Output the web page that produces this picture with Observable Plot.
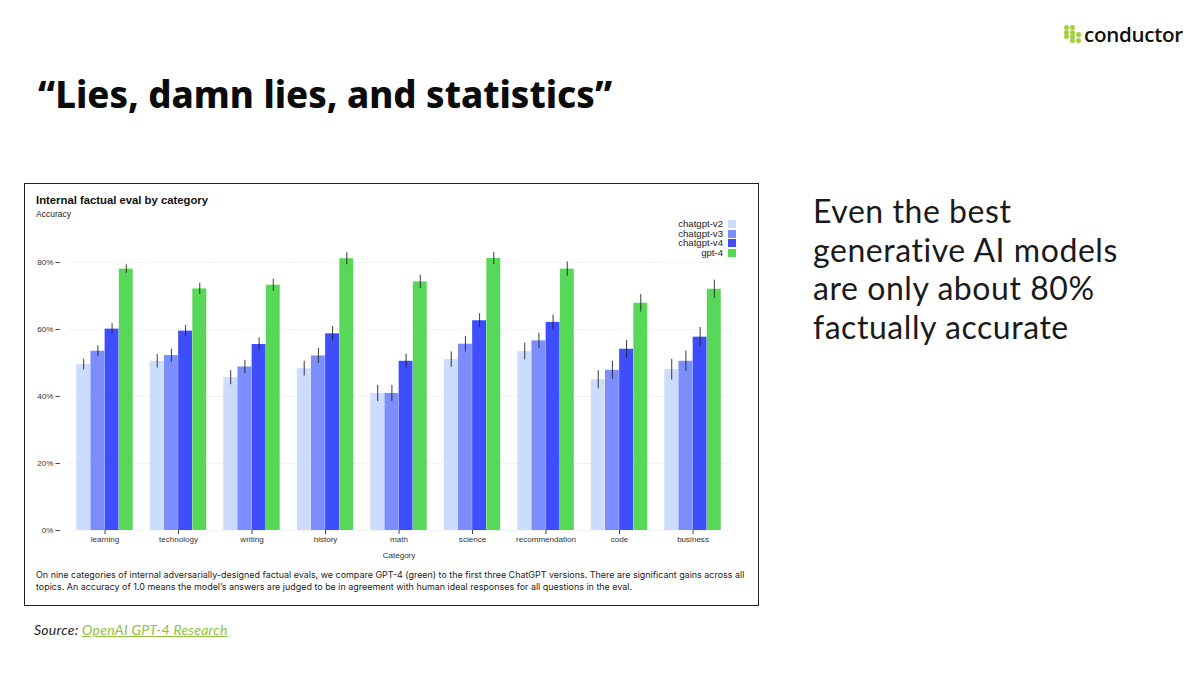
<!DOCTYPE html>
<html><head><meta charset="utf-8">
<script src="https://cdn.jsdelivr.net/npm/d3@7"></script>
<script src="https://cdn.jsdelivr.net/npm/@observablehq/plot@0.6"></script>
<style>
html,body{margin:0;padding:0;background:#fff;width:1196px;height:677px;overflow:hidden}
.a{position:absolute;white-space:nowrap;font-variant-ligatures:none}
#title{left:38px;top:69px;font:800 36.5px/50px "Noto Sans",sans-serif;color:#0b0b0b}
#box{left:24px;top:183px;width:733px;height:421px;border:1px solid #222}
#ct{left:36px;top:193px;font:bold 11.3px/14px "Liberation Sans",sans-serif;color:#111}
#yl{left:36px;top:209px;font:8.5px/11px "Liberation Sans",sans-serif;color:#222}
#chart{left:26px;top:190px}
#legend{left:640px;top:219px;width:96px;font:9.6px/9.7px "Liberation Sans",sans-serif;color:#222}
#legend div{display:flex;justify-content:flex-end;align-items:center;height:9.7px}
#legend i{display:block;width:8px;height:8px;margin-left:5px}
#cap{left:36px;top:569px;font:8.95px/12.4px Inter,sans-serif;color:#222}
#src{left:34px;top:621px;font:italic 14px/18px Lato,sans-serif;color:#222;letter-spacing:.25px}
#src a{color:#8fc13e;text-decoration:underline}
#side{left:813px;top:192px;font:32px/38.7px Lato,sans-serif;color:#1a1a1a;letter-spacing:.55px}
#logo{left:1084px;top:18px;font:600 20.6px/32px "Open Sans",sans-serif;color:#111;letter-spacing:-.3px}
.d{position:absolute;width:5px;height:5px;border-radius:50%;background:#a3cf3c}
</style></head><body>
<div class="a" id="title"></div>
<div class="a" id="box"></div>
<div class="a" id="ct"></div>
<div class="a" id="yl"></div>
<div class="a" id="chart"></div>
<div class="a" id="legend"></div>
<div class="a" id="cap"></div>
<div class="a" id="src"></div>
<div class="a" id="side"></div>
<div class="a" id="logo">conductor</div>
<script>
const categories=["learning","technology","writing","history","math","science","recommendation","code","business"];
const models=["chatgpt-v2","chatgpt-v3","chatgpt-v4","gpt-4"];
const colors=["#ccdcfc","#7b8efc","#3f4efc","#58d858"];
const v2=[49.5,50.5,45.6,48.3,40.9,51,53.4,45,48];
const v3=[53.5,52.2,48.8,52.1,40.9,55.6,56.6,47.8,50.5];
const v4=[60.1,59.5,55.5,58.7,50.5,62.6,62.1,54.1,57.7];
const g4=[78,72.1,73.2,81.1,74.2,81.2,78,67.8,72];
const e2=[1.6,2,2.1,2.2,2.4,2.3,2.5,2.7,3.1];
const e3=[1.6,1.9,2,2.2,2.4,2.3,2.3,2.7,3.1];
const e4=[1.6,1.7,2,2.2,2.1,2.1,2.2,2.6,2.9];
const eg=[1.3,1.7,1.8,1.8,2,1.8,2.1,2.6,2.7];
const yTicks=[0,20,40,60,80];
const titleText="“Lies, damn lies, and statistics”";
const chartTitle="Internal factual eval by category";
const yLabel="Accuracy";
const xLabel="Category";
const captionLines=["On nine categories of internal adversarially-designed factual evals, we compare GPT-4 (green) to the first three ChatGPT versions. There are significant gains across all","topics. An accuracy of 1.0 means the model’s answers are judged to be in agreement with human ideal responses for all questions in the eval."];
const sideLines=["Even the best","generative AI models","are only about 80%","factually accurate"];

const vals=[v2,v3,v4,g4], errs=[e2,e3,e4,eg];
const rows=models.flatMap((m,j)=>categories.map((c,i)=>({c,m,v:vals[j][i],e:errs[j][i]})));

const plot=Plot.plot({
  width:730,height:375,marginLeft:33.5,marginRight:18.5,marginTop:20,marginBottom:35,
  style:{background:"transparent",fontFamily:"Liberation Sans",fontSize:"8.05px",color:"#333"},
  fx:{domain:categories,paddingInner:0.224,paddingOuter:0.224,round:false,label:null,axis:null},
  x:{domain:models,padding:0.02,round:false,axis:null},
  y:{domain:[0,95.5],label:null},
  color:{domain:models,range:colors},
  marks:[
    Plot.ruleY(yTicks,{insetLeft:-8.3,insetRight:-8.3,stroke:"#f3f3f3",strokeWidth:1}),
    Plot.barY(rows,{fx:"c",x:"m",y:"v",fill:"m"}),
    Plot.ruleX(rows,{fx:"c",x:"m",y1:d=>d.v-d.e,y2:d=>d.v+d.e,stroke:"#222",strokeWidth:0.9}),
    Plot.axisY({ticks:yTicks,tickFormat:d=>d+"%",tickSize:4.5,tickPadding:2.5,dx:-16,label:null,stroke:"#444"}),
    Plot.axisFx({anchor:"bottom",label:xLabel,labelArrow:"none",labelAnchor:"center",labelOffset:27,tickSize:4,tickPadding:1.5,stroke:"#444"})
  ]
});
document.getElementById("chart").append(plot);
document.getElementById("title").textContent=titleText;
document.getElementById("ct").textContent=chartTitle;
document.getElementById("yl").textContent=yLabel;
document.getElementById("legend").innerHTML=models.map((m,i)=>`<div><span>${m}</span><i style="background:${colors[i]}"></i></div>`).join("");
document.getElementById("cap").innerHTML=captionLines.join("<br>");
document.getElementById("src").innerHTML='Source: <a href="#">OpenAI GPT-4 Research</a>';
document.getElementById("side").innerHTML=sideLines.join("<br>");
[[1064,25],[1070,25],[1064,29.5],[1070,29.5],[1064,34],[1070,34],[1076,32],[1070,38],[1076,38]].forEach(([x,y])=>{
  const e=document.createElement("div");e.className="d";e.style.left=x+"px";e.style.top=y+"px";document.body.append(e);
});
</script>
</body></html>
